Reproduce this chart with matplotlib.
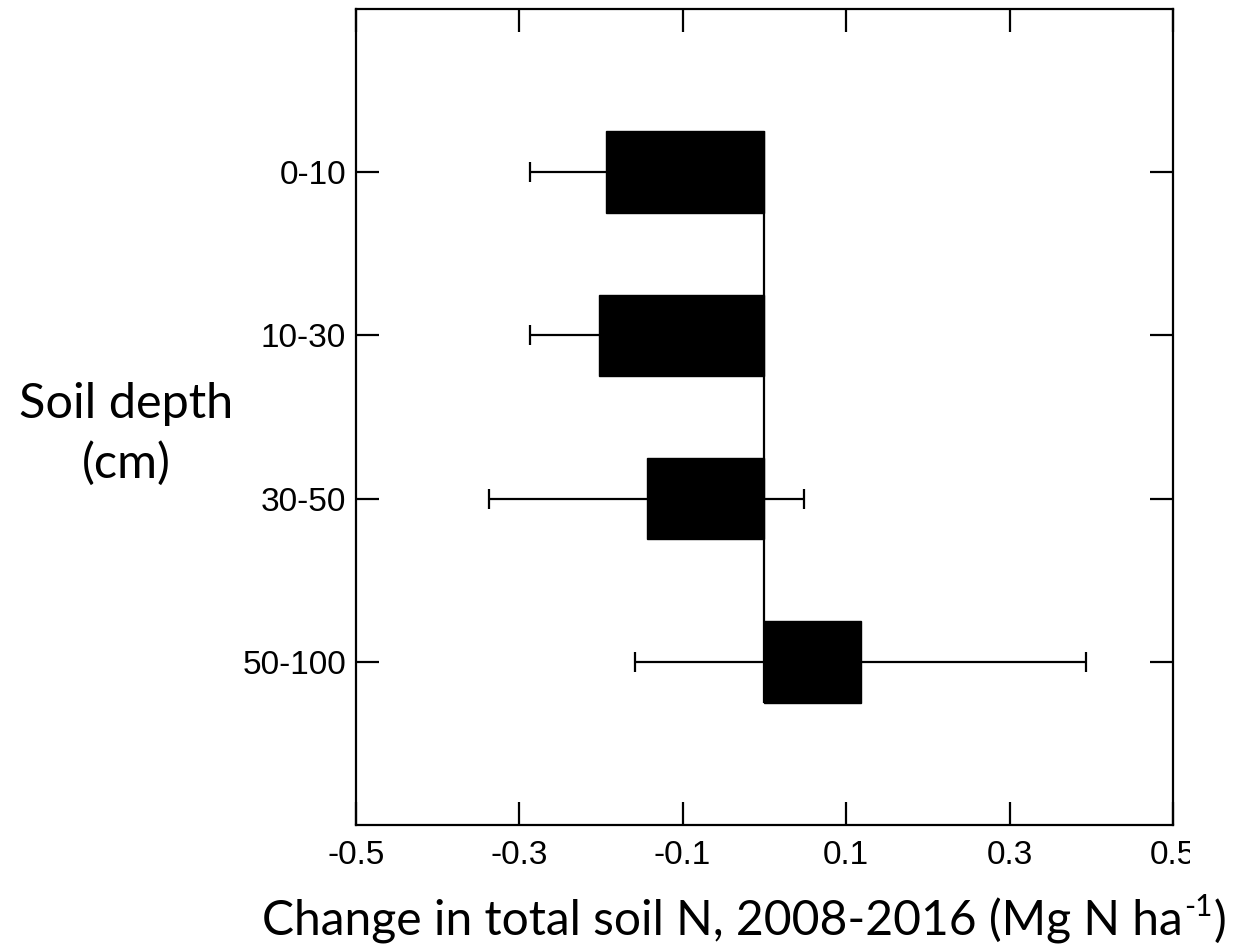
import matplotlib
matplotlib.use("Agg")
import matplotlib.pyplot as plt
from matplotlib.transforms import Bbox, TransformedBbox
import numpy as np

# Change in total soil N by depth layer, 2008-2016 (Mg N ha-1)
depths = ["0-10", "10-30", "30-50", "50-100"]
change = [-0.194, -0.202, -0.144, 0.118]
error = [0.093, 0.085, 0.193, 0.276]
x_ticks = [-0.5, -0.3, -0.1, 0.1, 0.3, 0.5]
x_ticklabels = ["-0.5", "-0.3", "-0.1", "0.1", "0.3", "0.5"]

W, H = 1235, 949
fig = plt.figure(figsize=(W / 100, H / 100), dpi=100)
ax = fig.add_axes([355.7 / W, 1 - 825 / H, (1173 - 355.7) / W, (825 - 9) / H])

ypos = np.arange(len(depths))
bar_h = 0.5
ax.errorbar(change, ypos, xerr=error, fmt="none", ecolor="black",
            elinewidth=1.6, capsize=7, capthick=1.6, zorder=2)
ax.barh(ypos, change, height=bar_h, color="black", edgecolor="black",
        linewidth=1, zorder=3)
ax.vlines(0, ypos[0] - bar_h / 2, ypos[-1] + bar_h / 2, color="black",
          linewidth=1.6, zorder=4)

ax.set_xlim(-0.5, 0.5)
ax.set_ylim(len(depths), -1)
ax.set_yticks(ypos, depths)
ax.set_xticks(x_ticks, x_ticklabels)

ax.tick_params(axis="both", direction="in", length=16.5, width=1.6,
               top=True, right=True, colors="black", labelsize=24,
               labelfontfamily="Liberation Sans")
ax.tick_params(axis="x", pad=10.5)
ax.tick_params(axis="y", pad=7)
for s in ax.spines.values():
    s.set_linewidth(1.6)

# the rightmost tick label runs off the edge of the canvas
clip = TransformedBbox(Bbox([[0, 0], [1190 / W, 1]]), fig.transFigure)
for lab in ax.get_xticklabels():
    lab.set_clip_on(True)
    lab.set_clip_box(clip)

label_font = "Lato"
label_size = 34.6

# x-axis title, built from pieces so the exponent keeps a plain hyphen
renderer = fig.canvas.get_renderer()
x0, base = 262, 936
main = fig.text(x0 / W, 1 - base / H, "Change in total soil N, 2008-2016 (Mg N ha",
                ha="left", va="baseline", fontsize=label_size, family=label_font)
bb = main.get_window_extent(renderer)
sup = fig.text(bb.x1 / W + 1 / W, 1 - (base - 20) / H, "-1", ha="left",
               va="baseline", fontsize=label_size * 0.62, family=label_font)
bb2 = sup.get_window_extent(renderer)
fig.text(bb2.x1 / W + 1 / W, 1 - base / H, ")", ha="left", va="baseline",
         fontsize=label_size, family=label_font)

fig.text(126 / W, 1 - 434 / H, "Soil depth\n(cm)", ha="center", va="center",
         fontsize=35, family=label_font, linespacing=1.42)

fig.savefig("out.png", dpi=100)
